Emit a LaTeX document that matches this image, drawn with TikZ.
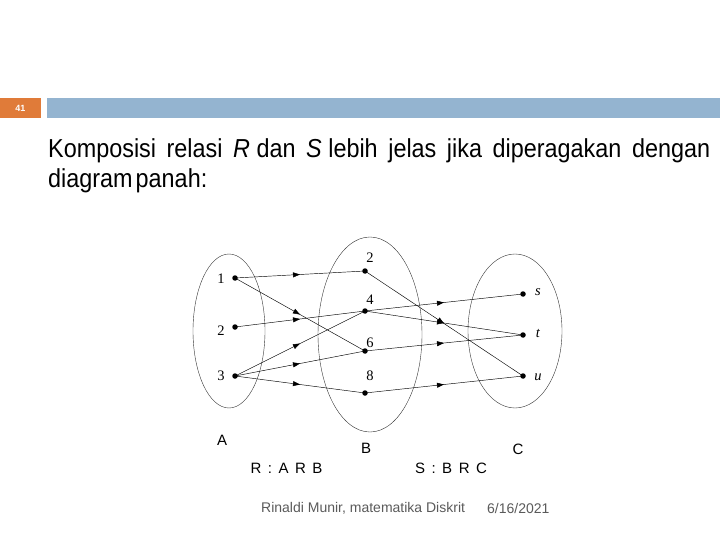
\documentclass[tikz,border=0pt]{standalone}
\usepackage{fontspec}
\setmainfont{Liberation Serif}
\setsansfont{Liberation Sans}
\newfontfamily\narrowfont[FakeStretch=0.9]{Liberation Sans}
\usetikzlibrary{decorations.markings,arrows.meta}
\definecolor{hdrorange}{RGB}{224,123,57}
\definecolor{hdrblue}{RGB}{148,180,208}
\definecolor{footgray}{RGB}{90,90,90}
\begin{document}
\begin{tikzpicture}[x=1pt,y=-1pt,
  setell/.style={draw=black!80,line width=0.4pt},
  pt/.style={circle,fill=black,inner sep=0pt,minimum size=5.5pt},
  lab/.style={font=\fontsize{14.5}{16}\selectfont,inner sep=0pt},
  rel/.style={line width=0.45pt,postaction={decorate},
    decoration={markings,mark=at position 0.5 with {\arrow{Triangle[length=7pt,width=5pt]}}}},
  sanslab/.style={font=\sffamily\fontsize{15}{17}\selectfont,inner sep=0pt},
  footlab/.style={font=\sffamily\fontsize{14}{16}\selectfont,text=footgray,inner sep=0pt,anchor=west}
]
\useasboundingbox (0,0) rectangle (720,540);
% header
\fill[hdrorange] (0,98) rectangle (41,118);
\fill[hdrblue] (47,98) rectangle (720,118);
\node[font=\sffamily\bfseries\fontsize{9}{10}\selectfont,text=white,inner sep=0pt] (pg) at (20.5,108) {41};
% title
\node[anchor=base west,inner sep=0pt,font=\narrowfont\fontsize{26}{28}\selectfont] (t1) at (48,158)
 {\hbox to 662pt{Komposisi\hfil relasi\hfil \textit{R} dan\hfil \textit{S} lebih\hfil jelas\hfil jika\hfil diperagakan\hfil dengan}};
\node[anchor=base west,inner sep=0pt,font=\narrowfont\fontsize{26}{28}\selectfont] (t2) at (48,188)
 {diagram\kern3pt panah:};
% sets
\draw[setell] (229,331) ellipse [x radius=36,y radius=77];
\draw[setell] (370,334.5) ellipse [x radius=52,y radius=97.5];
\draw[setell] (515,331) ellipse [x radius=47,y radius=77];
% points A
\node[pt] (a1) at (235,278) {};
\node[pt] (a2) at (235,327) {};
\node[pt] (a3) at (235,376) {};
\node[lab] (la1) at (221,279) {1};
\node[lab] (la2) at (221,331) {2};
\node[lab] (la3) at (221,376) {3};
% points B
\node[pt] (b2) at (365,271) {};
\node[pt] (b4) at (365,311) {};
\node[pt] (b6) at (365,351) {};
\node[pt] (b8) at (365,393) {};
\node[lab] (lb2) at (370,258) {2};
\node[lab] (lb4) at (370,300) {4};
\node[lab] (lb6) at (370,343) {6};
\node[lab] (lb8) at (370,376) {8};
% points C
\node[pt] (cs) at (523,294) {};
\node[pt] (ct) at (523,335) {};
\node[pt] (cu) at (523,376) {};
\node[lab] (lcs) at (538,292) {\textit{s}};
\node[lab] (lct) at (538,333) {\textit{t}};
\node[lab] (lcu) at (538,377) {\textit{u}};
% relation R
\draw[rel] (a1.center) -- (b2.center);
\draw[rel] (a1.center) -- (b6.center);
\draw[rel] (a2.center) -- (b4.center);
\draw[rel] (a3.center) -- (b4.center);
\draw[rel] (a3.center) -- (b6.center);
\draw[rel] (a3.center) -- (b8.center);
% relation S
\draw[rel] (b2.center) -- (cu.center);
\draw[rel] (b4.center) -- (cs.center);
\draw[rel] (b4.center) -- (ct.center);
\draw[rel] (b6.center) -- (ct.center);
\draw[rel] (b8.center) -- (cu.center);
% set labels
\node[sanslab] (sa) at (222,440) {A};
\node[sanslab] (sb) at (366,448) {B};
\node[sanslab] (sc) at (518,449) {C};
\node[sanslab] (rr) at (286.5,468) {R\hspace{6.5pt}:\hspace{6.5pt}A\hspace{6.5pt}R\hspace{6.5pt}B};
\node[sanslab] (ss) at (451,468) {S\hspace{6.5pt}:\hspace{6.5pt}B\hspace{6.5pt}R\hspace{6.5pt}C};
% footer
\node[footlab] (f1) at (261,508) {Rinaldi Munir, matematika Diskrit};
\node[footlab] (f2) at (487,508) {6/16/2021};
\end{tikzpicture}
\end{document}
